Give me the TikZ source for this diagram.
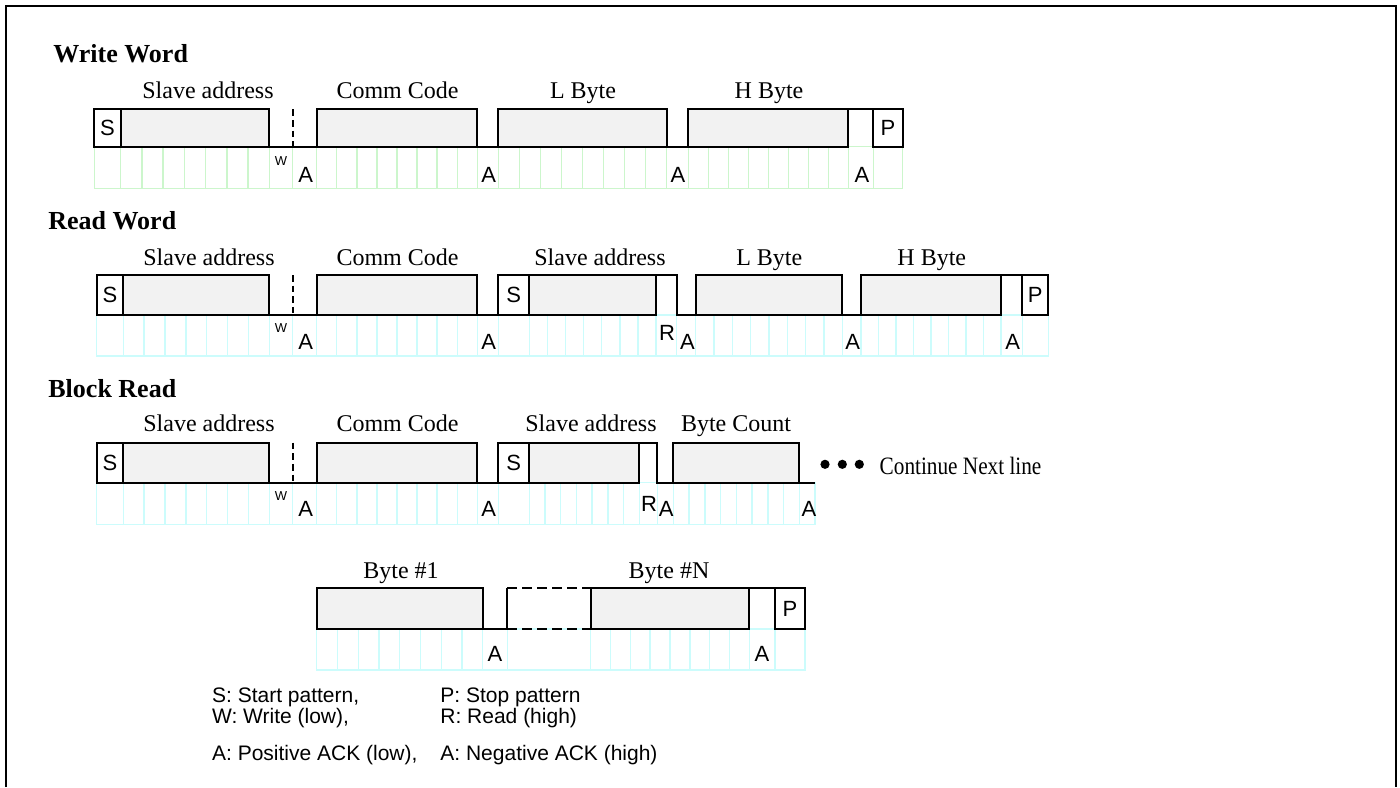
\documentclass[tikz,border=0pt]{standalone}
\usepackage{fontspec}
\setmainfont{Liberation Serif}
\setsansfont{Liberation Sans}
\newfontfamily\narrowserif{Liberation Serif}[FakeStretch=0.85]
\definecolor{boxgray}{RGB}{242,242,242}
\definecolor{gridgreen}{RGB}{204,246,204}
\definecolor{gridcyan}{RGB}{204,252,252}
% n bit cells between two x positions
\newcommand{\bitcells}[6]{%
  \foreach \k in {0,...,#3}
    \draw[#6] ({#1+(#2-#1)*\k/#3},#4) -- ({#1+(#2-#1)*\k/#3},#5);
}
\tikzset{
  level/.style={draw=black, line width=1pt},
  field/.style={draw=black, line width=1pt, fill=boxgray},
  cellg/.style={draw=gridgreen, line width=0.7pt},
  cellc/.style={draw=gridcyan, line width=0.7pt},
  title/.style={font=\fontsize{13}{15}\selectfont\bfseries, anchor=base west, inner sep=0pt},
  fieldname/.style={font=\fontsize{12}{14}\selectfont, anchor=base, inner sep=0pt},
  bitname/.style={font=\sffamily\fontsize{11}{13}\selectfont, inner sep=0pt},
  wbit/.style={font=\sffamily\fontsize{6.5}{7}\selectfont, inner sep=0pt},
  legend/.style={font=\sffamily\fontsize{10.5}{12}\selectfont, anchor=west, inner sep=0pt}
}
\begin{document}
\begin{tikzpicture}[x=0.5pt,y=-0.5pt]
\useasboundingbox (0,0) rectangle (1400,787);
\draw[line width=1pt] (5.5,787) -- (5.5,5.5) -- (1396,5.5) -- (1396,787);

% Write Word
\node[title] (ww) at (53,62.7) {Write Word};
\node[fieldname] (ww-sa) at (208,98.3) {Slave address};
\node[fieldname] (ww-cc) at (397.5,98.3) {Comm Code};
\node[fieldname] (ww-lb) at (583,98.3) {L Byte};
\node[fieldname] (ww-hb) at (769,98.3) {H Byte};
\draw[cellg] (94.3,146.7) rectangle (902.7,188.3);
\foreach \a/\b/\n in {94.3/120.7/1, 120.7/269.3/7, 269.3/292.7/1, 292.7/316.7/1, 316.7/477.3/8, 477.3/498.3/1,
                      498.3/666.7/8, 666.7/688.3/1, 688.3/848.3/8, 848.3/873.3/1, 873.3/902.7/1}
  \bitcells{\a}{\b}{\n}{146.7}{188.3}{cellg};
\draw[level] (94.3,109.3) rectangle (120.7,146.7);
\draw[field] (120.7,109.3) rectangle (269.3,146.7);
\draw[level] (269.3,146.7) -- (316.7,146.7);
\draw[level,dash pattern=on 3.3pt off 2pt] (292.7,109.3) -- (292.7,146.7);
\draw[field] (316.7,109.3) rectangle (477.3,146.7);
\draw[level] (477.3,146.7) -- (498.3,146.7);
\draw[field] (498.3,109.3) rectangle (666.7,146.7);
\draw[level] (666.7,146.7) -- (688.3,146.7);
\draw[field] (688.3,109.3) rectangle (848.3,146.7);
\draw[level] (848.3,109.3) -- (873.3,109.3);
\draw[level] (873.3,109.3) rectangle (902.7,146.7);
\node[bitname] (ww-s) at (107.5,128) {S};
\node[bitname] (ww-p) at (888,128) {P};
\node[wbit] (ww-w) at (281,161.5) {W};
\node[bitname] (ww-a1) at (305.7,174.5) {A};
\node[bitname] (ww-a2) at (488.8,174.5) {A};
\node[bitname] (ww-a3) at (678,174.5) {A};
\node[bitname] (ww-a4) at (862,174.5) {A};

% Read Word
\node[title] (rw) at (48,229.5) {Read Word};
\node[fieldname] (rw-sa) at (209,265) {Slave address};
\node[fieldname] (rw-cc) at (397.5,265) {Comm Code};
\node[fieldname] (rw-sb) at (600,265) {Slave address};
\node[fieldname] (rw-lb) at (769.3,265) {L Byte};
\node[fieldname] (rw-hb) at (931.8,265) {H Byte};
\draw[cellc] (96.7,315) rectangle (1048.3,356);
\foreach \a/\b/\n in {96.7/123.3/1, 123.3/269.3/7, 269.3/292.7/1, 292.7/316.7/1, 316.7/477.3/8, 477.3/498.3/1,
                      498.3/529.3/1, 529.3/656/7, 656/676.7/1, 676.7/695.7/1, 695.7/842.3/8, 842.3/861/1,
                      861/1001/8, 1001/1022.3/1, 1022.3/1048.3/1}
  \bitcells{\a}{\b}{\n}{315}{356}{cellc};
\draw[level] (96.7,275) rectangle (123.3,315);
\draw[field] (123.3,275) rectangle (269.3,315);
\draw[level] (269.3,315) -- (316.7,315);
\draw[level,dash pattern=on 3.3pt off 2pt] (292.7,275) -- (292.7,315);
\draw[field] (316.7,275) rectangle (477.3,315);
\draw[level] (477.3,315) -- (498.3,315);
\draw[level] (498.3,275) rectangle (529.3,315);
\draw[field] (529.3,275) rectangle (656,315);
\draw[level] (656,275) -- (676.7,275) -- (676.7,315) -- (695.7,315);
\draw[field] (695.7,275) rectangle (842.3,315);
\draw[level] (842.3,315) -- (861,315);
\draw[field] (861,275) rectangle (1001,315);
\draw[level] (1001,275) -- (1022.3,275);
\draw[level] (1022.3,275) rectangle (1048.3,315);
\node[bitname] (rw-s) at (110,295) {S};
\node[bitname] (rw-s2) at (513.8,295) {S};
\node[bitname] (rw-p) at (1035.3,295) {P};
\node[wbit] (rw-w) at (281,328) {W};
\node[bitname] (rw-r) at (667,333) {R};
\node[bitname] (rw-a1) at (305.7,341.5) {A};
\node[bitname] (rw-a2) at (488.8,341.5) {A};
\node[bitname] (rw-a3) at (687.5,341.5) {A};
\node[bitname] (rw-a4) at (852.7,341.5) {A};
\node[bitname] (rw-a5) at (1012.7,341.5) {A};

% Block Read
\node[title] (br) at (48,397.5) {Block Read};
\node[fieldname] (br-sa) at (209,431.7) {Slave address};
\node[fieldname] (br-cc) at (397.5,431.7) {Comm Code};
\node[fieldname] (br-sb) at (591,431.7) {Slave address};
\node[fieldname] (br-bc) at (736,431.7) {Byte Count};
\draw[cellc] (96.7,482.7) rectangle (815,524.3);
\foreach \a/\b/\n in {96.7/123.3/1, 123.3/269.3/7, 269.3/292.7/1, 292.7/316.7/1, 316.7/477.3/8, 477.3/498.3/1,
                      498.3/529.3/1, 529.3/639.3/7, 639.3/657.3/1, 657.3/673.3/1, 673.3/799.3/8, 799.3/815/1}
  \bitcells{\a}{\b}{\n}{482.7}{524.3}{cellc};
\draw[level] (96.7,442.7) rectangle (123.3,482.7);
\draw[field] (123.3,442.7) rectangle (269.3,482.7);
\draw[level] (269.3,482.7) -- (316.7,482.7);
\draw[level,dash pattern=on 3.3pt off 2pt] (292.7,442.7) -- (292.7,482.7);
\draw[field] (316.7,442.7) rectangle (477.3,482.7);
\draw[level] (477.3,482.7) -- (498.3,482.7);
\draw[level] (498.3,442.7) rectangle (529.3,482.7);
\draw[field] (529.3,442.7) rectangle (639.3,482.7);
\draw[level] (639.3,442.7) -- (657.3,442.7) -- (657.3,482.7) -- (673.3,482.7);
\draw[field] (673.3,442.7) rectangle (799.3,482.7);
\draw[level] (799.3,482.7) -- (815,482.7);
\node[bitname] (br-s) at (110,462.7) {S};
\node[bitname] (br-s2) at (513.8,462.7) {S};
\node[wbit] (br-w) at (281,496) {W};
\node[bitname] (br-r) at (649,503.5) {R};
\node[bitname] (br-a1) at (305.7,509) {A};
\node[bitname] (br-a2) at (488.8,509) {A};
\node[bitname] (br-a3) at (666.3,509) {A};
\node[bitname] (br-a4) at (809,509) {A};
\foreach \x in {825,842.3,859.3}
  \fill (\x,464.3) circle (2.3pt);
\node[font=\narrowserif\fontsize{12.5}{14}\selectfont, anchor=base west, inner sep=0pt] (br-next) at (879.3,474) {Continue Next line};

% data bytes
\node[fieldname] (bn-1) at (401,578) {Byte \#1};
\node[fieldname] (bn-n) at (669,578) {Byte \#N};
\draw[cellc] (316.7,629) rectangle (805,670);
\foreach \a/\b/\n in {316.7/482.7/8, 482.7/507.3/1, 590.7/749.3/8, 749.3/775/1, 775/805/1}
  \bitcells{\a}{\b}{\n}{629}{670}{cellc};
\draw[field] (316.7,588.3) rectangle (482.7,629);
\draw[level] (482.7,629) -- (507.3,629);
\draw[level] (507.3,588.3) -- (507.3,629);
\draw[level,dash pattern=on 5pt off 2.5pt] (507.3,588.3) -- (590.7,588.3);
\draw[level,dash pattern=on 5pt off 2.5pt] (507.3,629) -- (590.7,629);
\draw[field] (590.7,588.3) rectangle (749.3,629);
\draw[level] (749.3,588.3) -- (775,588.3);
\draw[level] (775,588.3) rectangle (805,629);
\node[bitname] (bn-p) at (790,608.6) {P};
\node[bitname] (bn-a1) at (495,654) {A};
\node[bitname] (bn-a2) at (762,654) {A};

% legend
\node[legend] (lg-s) at (211.7,697) {S: Start pattern,};
\node[legend] (lg-w) at (211.7,718) {W: Write (low),};
\node[legend] (lg-a) at (211.7,755) {A: Positive ACK (low),};
\node[legend] (lg-p) at (440,697) {P: Stop pattern};
\node[legend] (lg-r) at (440,718) {R: Read (high)};
\node[legend] (lg-n) at (440,755) {A: Negative ACK (high)};
\end{tikzpicture}
\end{document}
